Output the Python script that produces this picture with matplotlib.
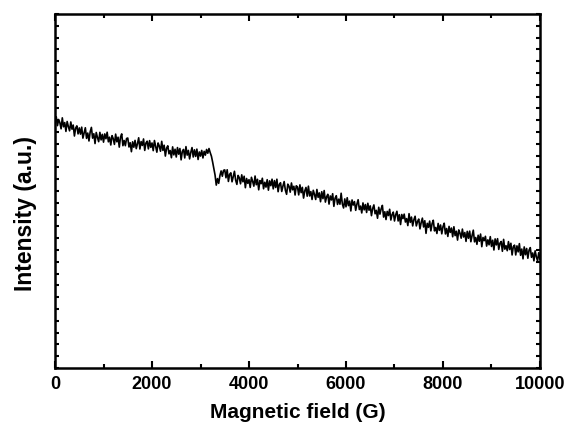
import matplotlib
matplotlib.use("Agg")
import matplotlib.pyplot as plt
from matplotlib.ticker import MultipleLocator

plt.rcParams['font.family'] = ['Liberation Sans', 'DejaVu Sans']

field_start = 0
field_step = 25
intensity = [
    21.01, 21.29, 20.54, 21.06, 20.79, 20.27, 21.2, 20.44, 20.8, 20.05, 20.89, 20.46, 20.1, 20.85, 20.24, 20.59, 19.66, 20.33, 20.52, 19.84,
    20.35, 19.82, 20.41, 19.48, 19.91, 20.36, 19.46, 19.91, 19.24, 20.01, 20.39, 19.48, 19.85, 19.02, 19.96, 19.53, 19.18, 19.97, 19.33, 19.8,
    19.14, 19.84, 19.43, 19.98, 19.17, 19.56, 18.9, 19.69, 19.44, 18.95, 19.82, 19.17, 19.56, 18.72, 19.56, 19.84, 18.84, 19.28, 18.84, 19.45,
    19.49, 18.73, 19.09, 18.33, 19.17, 18.71, 19.29, 18.59, 19.01, 19.51, 18.56, 19.19, 18.86, 19.41, 18.44, 19.07, 19.22, 18.57, 19.27, 18.7,
    19.07, 18.42, 19.28, 18.78, 18.29, 19.07, 18.81, 18.37, 19.21, 18.44, 18.88, 17.96, 18.63, 18.83, 18.15, 18.43, 17.82, 18.74, 18.06, 18.54,
    17.88, 18.68, 18.12, 18.6, 17.64, 18.36, 18.52, 17.8, 18.76, 18.04, 18.44, 17.72, 18.28, 18.68, 17.88, 18.49, 17.93, 18.55, 17.67, 18.31,
    17.96, 18.44, 17.8, 18.36, 18.04, 18.52, 18.2, 18.6, 18.25, 17.95, 17.45, 16.9, 16.35, 15.5, 16.05, 15.65, 16.3, 16.7, 16.25, 16.75,
    16.79, 16.12, 16.8, 15.81, 16.41, 16.54, 15.78, 16.23, 16.67, 15.91, 15.56, 16.32, 16.12, 15.61, 16.37, 15.78, 16.25, 15.28, 16.06, 15.65,
    15.96, 15.3, 16.16, 15.82, 15.41, 16.27, 15.53, 15.99, 15.1, 15.88, 15.62, 16.08, 15.19, 15.74, 15.33, 15.96, 15.07, 15.86, 15.45, 16.0,
    15.18, 15.88, 15.3, 16.0, 14.94, 15.56, 15.7, 14.96, 15.42, 15.8, 15.06, 14.72, 15.58, 15.4, 14.9, 15.68, 15.1, 15.4, 14.66, 15.44,
    15.34, 14.67, 15.52, 14.86, 15.31, 14.4, 15.01, 15.3, 14.56, 15.41, 14.58, 14.95, 14.28, 15.06, 14.71, 14.28, 15.13, 14.46, 14.84, 14.09,
    14.94, 14.35, 15.04, 14.06, 14.51, 14.72, 13.89, 14.58, 14.24, 14.77, 13.7, 14.39, 14.6, 13.86, 14.31, 13.88, 14.81, 13.9, 13.56, 14.33,
    13.66, 14.43, 13.76, 14.14, 13.31, 14.24, 13.81, 14.1, 13.36, 13.89, 14.26, 13.43, 13.72, 13.14, 13.99, 13.4, 13.85, 13.18, 13.96, 13.37,
    13.74, 12.91, 13.52, 13.82, 13.07, 13.36, 12.69, 13.62, 13.04, 13.49, 13.78, 12.79, 13.24, 12.58, 13.27, 12.92, 13.45, 12.54, 13.0, 13.21,
    12.46, 12.99, 13.28, 12.46, 12.99, 12.16, 13.01, 12.66, 13.04, 12.37, 12.66, 12.07, 13.08, 12.34, 12.79, 12.04, 12.57, 12.86, 12.04, 12.41,
    12.62, 11.79, 12.32, 12.7, 11.95, 12.48, 11.41, 12.26, 11.92, 12.45, 11.62, 12.23, 12.52, 11.62, 11.91, 11.4, 12.25, 11.66, 12.12, 11.37,
    11.98, 12.27, 11.36, 11.82, 11.15, 12.0, 11.49, 11.86, 11.12, 11.97, 11.22, 11.59, 10.84, 11.7, 11.43, 11.0, 11.77, 11.1, 11.48, 10.73,
    11.58, 10.99, 11.6, 10.7, 11.23, 11.68, 10.69, 11.06, 10.48, 11.25, 10.74, 11.35, 10.28, 11.06, 10.79, 11.16, 10.33, 10.86, 10.44, 11.13,
    10.3, 10.83, 10.0, 10.94, 10.43, 10.96, 10.05, 10.58, 10.72, 9.89, 10.9, 10.07, 10.36, 9.94, 10.71, 10.04, 10.57, 9.58, 10.28, 10.41,
    9.58, 10.35, 9.84, 10.54, 9.55, 10.08, 9.25, 10.26, 9.6, 10.13, 9.3, 9.99, 10.2, 9.38, 9.75, 9.08, 9.93, 9.42, 9.08, 9.77,
    9.2,
]
field = [field_start + i * field_step for i in range(len(intensity))]

fig = plt.figure(figsize=(5.69, 4.39), dpi=100)
ax = fig.add_axes([0.0967, 0.1595, 0.8523, 0.8063])
ax.plot(field, intensity, color='black', lw=1.2)

ax.set_xlim(0, 10000)
ax.set_ylim(0, 30)
ax.xaxis.set_major_locator(MultipleLocator(2000))
ax.xaxis.set_minor_locator(MultipleLocator(1000))
ax.yaxis.set_major_locator(MultipleLocator(1))
ax.tick_params(axis='x', which='both', direction='in', top=True, bottom=True, width=1.5)
ax.tick_params(axis='x', which='major', length=5, labelsize=13, pad=5)
ax.tick_params(axis='x', which='minor', length=3)
ax.tick_params(axis='y', which='both', direction='in', left=True, right=True, length=3, width=1.5, labelleft=False)
for lab in ax.get_xticklabels():
    lab.set_fontweight('bold')
for s in ax.spines.values():
    s.set_linewidth(1.8)

ax.set_xlabel('Magnetic field (G)', fontsize=15, fontweight='bold', labelpad=7)
ax.set_ylabel('Intensity (a.u.)', fontsize=16.5, fontweight='bold')
ax.yaxis.set_label_coords(-0.037, 0.44)

fig.savefig('out.png', dpi=100)
